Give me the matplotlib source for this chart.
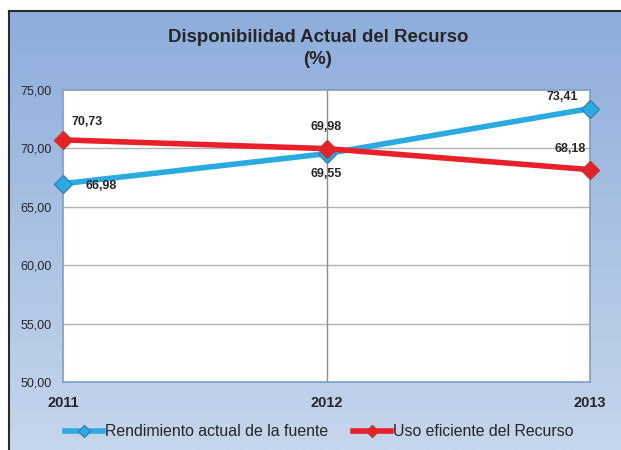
import numpy as np
import matplotlib.pyplot as plt
from matplotlib.ticker import FuncFormatter

years = ['2011', '2012', '2013']
rendimiento = [66.98, 69.55, 73.41]
uso_eficiente = [70.73, 69.98, 68.18]
y_ticks = [50, 55, 60, 65, 70, 75]

W, H = 621, 450
fig = plt.figure(figsize=(W / 100, H / 100), dpi=100)
fig.patch.set_facecolor('white')

# fondo degradado
bg = fig.add_axes([9 / W, 0, 1 - 9 / W, 1 - 11 / H])
grad = np.linspace(0, 1, 256).reshape(-1, 1)
top = np.array([0x8D, 0xAD, 0xDB]) / 255
bot = np.array([0xC6, 0xD6, 0xEC]) / 255
img = top[None, None, :] * (1 - grad[:, :, None]) + bot[None, None, :] * grad[:, :, None]
bg.imshow(img, aspect='auto', extent=[0, 1, 0, 1])
bg.set_xlim(0, 1)
bg.set_ylim(0, 1)
bg.set_xticks([])
bg.set_yticks([])
for s in ['right', 'bottom']:
    bg.spines[s].set_visible(False)
for s in ['top', 'left']:
    bg.spines[s].set_color('#2b2b2b')
    bg.spines[s].set_linewidth(1.5)

fig.text(318 / W, 1 - 38 / H, 'Disponibilidad Actual del Recurso', ha='center', va='center',
         fontsize=13.4, fontweight='bold', color='#262626', family='Liberation Sans')
fig.text(318 / W, 1 - 59 / H, '(%)', ha='center', va='center',
         fontsize=13.4, fontweight='bold', color='#262626', family='Liberation Sans')

ax = fig.add_axes([63 / W, 1 - 382 / H, (590 - 63) / W, (382 - 90) / H])
ax.set_facecolor('white')
x = np.arange(len(years))

ax.set_xlim(0, 2)
ax.set_ylim(50, 75)
ax.set_yticks(y_ticks)
ax.yaxis.set_major_formatter(FuncFormatter(lambda v, p: f'{v:.2f}'.replace('.', ',')))
ax.set_xticks(x)
ax.set_xticklabels(years, fontweight='bold')
ax.tick_params(axis='both', length=0, labelcolor='#262626')
ax.tick_params(axis='y', labelsize=9, pad=8)
ax.tick_params(axis='x', labelsize=10.5, pad=10)
for lab in ax.get_xticklabels() + ax.get_yticklabels():
    lab.set_family('Liberation Sans')
for v in y_ticks[1:-1]:
    ax.axhline(v, color='#b3b3b3', lw=1, zorder=1)
ax.axvline(1, color='#8c8c8c', lw=1, zorder=1)
for s in ax.spines.values():
    s.set_color('#7f9cc6')
    s.set_linewidth(1.2)

l1, = ax.plot(x, rendimiento, color='#29abe2', lw=4, marker='D', markersize=9.5,
              markerfacecolor='#29abe2', markeredgecolor='#3a7fb8', markeredgewidth=1,
              clip_on=False, zorder=3, label='Rendimiento actual de la fuente')
l2, = ax.plot(x, uso_eficiente, color='#e8202a', lw=4, marker='D', markersize=9.5,
              markerfacecolor='#e8202a', markeredgecolor='#c0392b', markeredgewidth=1,
              clip_on=False, zorder=4, label='Uso eficiente del Recurso')

fmt = lambda v: f'{v:.2f}'.replace('.', ',')
lab_kw = dict(fontsize=9, fontweight='bold', color='#262626', family='Liberation Sans',
              textcoords='offset pixels', va='center')
ax.annotate(fmt(rendimiento[0]), (x[0], rendimiento[0]), xytext=(22, -2), ha='left', **lab_kw)
ax.annotate(fmt(rendimiento[1]), (x[1], rendimiento[1]), xytext=(0, -20), ha='center', **lab_kw)
ax.annotate(fmt(rendimiento[2]), (x[2], rendimiento[2]), xytext=(-12, 12), ha='right', **lab_kw)
ax.annotate(fmt(uso_eficiente[0]), (x[0], uso_eficiente[0]), xytext=(8, 18), ha='left', **lab_kw)
ax.annotate(fmt(uso_eficiente[1]), (x[1], uso_eficiente[1]), xytext=(0, 22), ha='center', **lab_kw)
ax.annotate(fmt(uso_eficiente[2]), (x[2], uso_eficiente[2]), xytext=(-4, 21), ha='right', **lab_kw)

leg = fig.legend(handles=[l1, l2], loc='center', bbox_to_anchor=(319 / W, 1 - 432 / H), ncol=2,
                 frameon=False, handlelength=2.4, handletextpad=0.1,
                 columnspacing=1.6, prop={'family': 'Liberation Sans', 'size': 11.4})
for h in leg.legend_handles:
    h.set_markersize(6)
for t in leg.get_texts():
    t.set_color('#262626')

fig.savefig('out.png', dpi=100)
